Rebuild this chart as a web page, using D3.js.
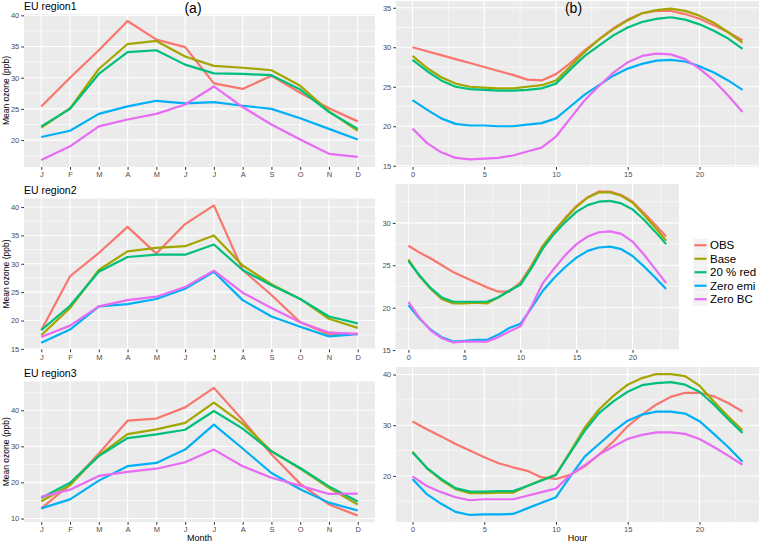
<!DOCTYPE html>
<html><head><meta charset="utf-8">
<script src="https://cdn.jsdelivr.net/npm/d3@7"></script>
<style>body{margin:0;background:#fff} svg{display:block;font-family:"Liberation Sans",Arial,sans-serif}</style>
</head><body><svg id="c" width="760" height="542"></svg>
<script>
// ---------- data ----------
const monthNames = ["Jan","Feb","Mar","Apr","May","Jun","Jul","Aug","Sep","Oct","Nov","Dec"];
const monthLabels = ["J","F","M","A","M","J","J","A","S","O","N","D"];
const hours = [0,1,2,3,4,5,6,7,8,9,10,11,12,13,14,15,16,17,18,19,20,21,22,23];
const hourTicks = [0,5,10,15,20];
const seriesNames = ["OBS","Base","20 % red","Zero emi","Zero BC"];
const seriesColors = ["#F8766D","#A3A500","#00BF7D","#00B0F6","#E76BF3"];

// EU region1 - monthly
const r1mOBS  = [25.4,30.0,34.4,39.1,36.1,34.9,29.1,28.2,30.3,27.6,25.1,23.0];
const r1mBase = [22.0,25.1,31.4,35.4,35.9,33.4,31.9,31.6,31.2,28.7,24.6,21.5];
const r1mRed  = [22.2,25.0,30.6,34.1,34.4,32.1,30.7,30.6,30.4,28.1,24.5,21.8];
const r1mEmi  = [20.5,21.5,24.2,25.4,26.3,25.9,26.1,25.5,25.0,23.5,21.8,20.1];
const r1mBC   = [16.8,19.0,22.2,23.3,24.2,25.7,28.6,25.3,22.5,20.1,17.8,17.3];
// EU region1 - hourly
const r1hOBS  = [30.0,29.5,29.0,28.5,28.0,27.5,27.0,26.5,25.9,25.8,26.6,28.0,29.6,31.0,32.4,33.5,34.3,34.6,34.6,34.2,33.6,32.8,31.9,30.9];
const r1hBase = [28.9,27.4,26.2,25.4,25.0,24.9,24.8,24.8,25.0,25.2,25.8,27.6,29.4,31.0,32.3,33.4,34.3,34.7,34.9,34.6,34.0,33.1,31.9,30.6];
const r1hRed  = [28.4,27.0,25.8,25.0,24.7,24.6,24.5,24.5,24.6,24.8,25.4,27.2,28.9,30.2,31.5,32.5,33.2,33.6,33.8,33.5,32.9,32.1,31.1,29.8];
const r1hEmi  = [23.3,22.1,21.0,20.3,20.1,20.1,20.0,20.0,20.2,20.4,21.0,22.5,24.0,25.2,26.4,27.3,27.9,28.3,28.4,28.2,27.6,26.8,25.8,24.6];
const r1hBC   = [19.7,17.9,16.7,16.0,15.8,15.9,16.0,16.3,16.8,17.3,18.7,21.0,23.3,25.1,26.8,28.1,28.9,29.2,29.1,28.5,27.3,25.8,23.9,21.8];
// EU region2 - monthly
const r2mOBS  = [18.3,27.8,31.9,36.5,31.8,37.0,40.3,28.9,24.5,19.7,17.6,17.7];
const r2mBase = [17.4,22.2,28.9,32.2,32.8,33.1,35.0,29.7,26.4,23.8,20.3,18.7];
const r2mRed  = [18.3,22.6,28.6,31.2,31.6,31.6,33.4,28.9,26.2,23.8,20.7,19.5];
const r2mEmi  = [16.1,18.4,22.5,22.9,23.8,25.6,28.6,23.6,20.7,18.9,17.2,17.6];
const r2mBC   = [17.1,19.1,22.5,23.6,24.2,25.9,28.8,24.9,22.2,19.7,17.9,17.6];
// EU region2 - hourly
const r2hOBS  = [27.3,26.5,25.8,25.0,24.2,23.6,23.0,22.4,21.9,21.9,23.0,25.0,27.3,29.0,30.6,32.0,33.0,33.7,33.7,33.3,32.5,31.2,29.8,28.4];
const r2hBase = [25.7,23.7,22.2,21.0,20.5,20.5,20.6,20.5,21.2,22.0,22.8,24.9,27.3,29.0,30.5,31.9,33.0,33.6,33.6,33.2,32.4,31.0,29.5,27.9];
const r2hRed  = [25.5,23.8,22.3,21.2,20.7,20.7,20.7,20.7,21.2,22.0,22.7,24.7,27.0,28.7,30.1,31.3,32.1,32.5,32.6,32.3,31.6,30.4,29.0,27.5];
const r2hEmi  = [20.3,18.7,17.4,16.5,16.0,16.1,16.2,16.2,16.8,17.6,18.1,20.0,22.0,23.5,24.8,25.9,26.7,27.1,27.2,26.9,26.1,24.9,23.6,22.2];
const r2hBC   = [20.7,18.8,17.3,16.4,15.9,16.0,16.0,16.0,16.5,17.2,17.8,20.2,22.9,24.6,26.2,27.5,28.4,28.9,29.0,28.7,27.8,26.3,24.6,22.9];
// EU region3 - monthly
const r3mOBS  = [12.8,19.4,28.0,37.1,37.7,40.8,46.2,37.3,27.8,19.6,13.9,10.8];
const r3mBase = [14.8,19.2,27.5,33.4,34.7,36.5,42.1,36.3,28.7,23.8,18.5,13.9];
const r3mRed  = [15.7,19.9,27.3,32.3,33.3,34.6,39.8,34.9,28.6,24.0,18.9,14.7];
const r3mEmi  = [12.8,15.3,20.5,24.5,25.4,29.1,36.0,29.4,22.6,18.1,14.4,12.2];
const r3mBC   = [16.0,18.0,21.8,22.9,23.8,25.6,29.1,24.5,21.3,19.1,16.8,16.9];
// EU region3 - hourly
const r3hOBS  = [30.75,29.2,27.8,26.3,25.0,23.7,22.5,21.7,21.0,19.7,19.4,20.2,21.9,24.2,26.8,29.8,32.1,34.1,35.6,36.4,36.4,35.7,34.4,32.7];
const r3hBase = [24.8,21.5,19.2,17.4,16.6,16.6,16.7,16.7,18.0,19.2,20.3,24.8,29.5,33.1,35.8,38.0,39.3,40.1,40.1,39.7,37.8,34.7,31.7,29.0];
const r3hRed  = [24.6,21.6,19.4,17.6,16.9,16.9,17.0,17.0,18.0,19.1,20.2,24.6,28.9,32.4,34.7,36.6,37.9,38.3,38.5,38.0,36.6,34.1,31.2,28.5];
const r3hEmi  = [19.4,16.4,14.5,12.9,12.3,12.4,12.4,12.5,13.6,14.7,15.8,19.9,23.8,26.3,28.8,30.9,32.1,32.7,32.7,32.3,30.8,28.3,25.7,22.8];
const r3hBC   = [19.9,18.0,16.8,15.8,15.2,15.4,15.4,15.4,16.1,16.8,17.5,20.2,22.1,24.2,25.8,27.3,28.1,28.6,28.6,28.3,27.3,25.7,24.0,22.2];

const yTicks1 = [20,25,30,35,40];
const yTicks2 = [15,20,25,30,35];
const yTicks3 = [15,20,25,30,35,40];
const yTicks4 = [15,20,25,30];
const yTicks5 = [10,20,30,40];
const yTicks6 = [20,30,40];

// ---------- layout ----------
const panels = [
  {kind:"month", series:[r1mOBS,r1mBase,r1mRed,r1mEmi,r1mBC], yt:yTicks1, box:[24,375,14,167], title:"EU region1", ylab:true},
  {kind:"hour",  series:[r1hOBS,r1hBase,r1hRed,r1hEmi,r1hBC], yt:yTicks2, box:[396,759,1,167]},
  {kind:"month", series:[r2mOBS,r2mBase,r2mRed,r2mEmi,r2mBC], yt:yTicks3, box:[24,375,198.5,349.5], title:"EU region2", ylab:true},
  {kind:"hour",  series:[r2hOBS,r2hBase,r2hRed,r2hEmi,r2hBC], yt:yTicks4, box:[395.5,679,184,350]},
  {kind:"month", series:[r3mOBS,r3mBase,r3mRed,r3mEmi,r3mBC], yt:yTicks5, box:[24,375,381.5,522], title:"EU region3", ylab:true, xlab:"Month"},
  {kind:"hour",  series:[r3hOBS,r3hBase,r3hRed,r3hEmi,r3hBC], yt:yTicks6, box:[396,759,367,522], xlab:"Hour"}
];

const svg = d3.select("#c");
const tickCol = "#4D4D4D", tickLen = 2.75;

panels.forEach(p => {
  const [L,R,T,B] = p.box;
  const all = p.series.flat();
  const lo = d3.min(all), hi = d3.max(all), pad = (hi-lo)*0.05;
  const y = d3.scaleLinear().domain([lo-pad, hi+pad]).range([B,T]);
  let x, xvals, xTickVals, xFmt;
  if (p.kind === "month") {
    x = d3.scalePoint().domain(monthNames).range([L,R]).padding(0.6);
    xvals = monthNames; xTickVals = monthNames;
    xFmt = (d,i) => monthLabels[monthNames.indexOf(d)];
  } else {
    const hp = (d3.max(hours)-d3.min(hours))*0.05;
    x = d3.scaleLinear().domain([d3.min(hours)-hp, d3.max(hours)+hp]).range([L,R]);
    xvals = hours; xTickVals = hourTicks; xFmt = d => d;
  }
  const g = svg.append("g");
  g.append("rect").attr("x",L).attr("y",T).attr("width",R-L).attr("height",B-T).attr("fill","#EBEBEB");
  // minor grid y
  const st = p.yt[1]-p.yt[0];
  const [d0,d1] = y.domain();
  const minors = [];
  for (let v = p.yt[0]-st/2; v <= d1; v += st) if (v >= d0) minors.push(v);
  g.selectAll(null).data(minors).enter().append("line")
    .attr("x1",L).attr("x2",R).attr("y1",d=>y(d)).attr("y2",d=>y(d))
    .attr("stroke","#fff").attr("stroke-width",0.55);
  if (p.kind === "hour") {
    const xm = [];
    for (let v = hourTicks[0]-2.5; v <= x.domain()[1]; v += 5) if (v >= x.domain()[0]) xm.push(v);
    g.selectAll(null).data(xm).enter().append("line")
      .attr("y1",T).attr("y2",B).attr("x1",d=>x(d)).attr("x2",d=>x(d))
      .attr("stroke","#fff").attr("stroke-width",0.55);
  }
  // major grid
  g.selectAll(null).data(p.yt).enter().append("line")
    .attr("x1",L).attr("x2",R).attr("y1",d=>y(d)).attr("y2",d=>y(d))
    .attr("stroke","#fff").attr("stroke-width",1.1);
  g.selectAll(null).data(xTickVals).enter().append("line")
    .attr("y1",T).attr("y2",B).attr("x1",d=>x(d)).attr("x2",d=>x(d))
    .attr("stroke","#fff").attr("stroke-width",1.1);
  // lines
  const line = d3.line().x((d,i)=>x(xvals[i])).y(d=>y(d));
  p.series.forEach((s,k) => {
    g.append("path").attr("d", line(s)).attr("fill","none")
      .attr("stroke", seriesColors[k]).attr("stroke-width",2.2)
      .attr("stroke-linejoin","round");
  });
  // axes
  const ya = d3.axisLeft(y).tickValues(p.yt).tickSize(tickLen).tickPadding(2);
  const ga = svg.append("g").attr("transform",`translate(${L},0)`).call(ya);
  const xa = (p.kind==="month" ? d3.axisBottom(x).tickFormat(xFmt) : d3.axisBottom(x).tickValues(hourTicks))
    .tickSize(tickLen).tickPadding(2);
  const gx = svg.append("g").attr("transform",`translate(0,${B})`).call(xa);
  [ga,gx].forEach(a => {
    a.select(".domain").remove();
    a.selectAll(".tick line").attr("stroke","#333333").attr("stroke-width",1);
    a.selectAll(".tick text").attr("fill",tickCol).attr("font-size",7.5)
      .attr("font-family","Liberation Sans, Arial, sans-serif");
  });
  if (p.title) {
    svg.append("text").attr("x",L).attr("y",T-4.5).attr("font-size",10.5).attr("fill","#000").text(p.title);
  }
  if (p.ylab) {
    svg.append("text").attr("transform",`translate(8.5,${(T+B)/2}) rotate(-90)`)
      .attr("text-anchor","middle").attr("font-size",8.5).attr("fill","#000").text("Mean ozone (ppb)");
  }
  if (p.xlab) {
    svg.append("text").attr("x",(L+R)/2).attr("y",541).attr("text-anchor","middle")
      .attr("font-size",9).attr("fill","#000").text(p.xlab);
  }
});

// panel labels
svg.append("text").attr("x",193).attr("y",13).attr("text-anchor","middle").attr("font-size",14).text("(a)");
svg.append("text").attr("x",573.5).attr("y",13).attr("text-anchor","middle").attr("font-size",14).text("(b)");

// legend
const lg = svg.append("g");
const keyY0 = 238.5, keyH = 13.5;
seriesNames.forEach((n,i) => {
  const yy = keyY0 + i*keyH;
  lg.append("rect").attr("x",693).attr("y",yy).attr("width",15).attr("height",keyH).attr("fill","#F2F2F2").attr("stroke","#fff").attr("stroke-width",0.5);
  lg.append("line").attr("x1",694.5).attr("x2",706.5).attr("y1",yy+keyH/2).attr("y2",yy+keyH/2)
    .attr("stroke",seriesColors[i]).attr("stroke-width",2.2);
  lg.append("text").attr("x",710).attr("y",yy+keyH/2).attr("dy","0.36em").attr("font-size",11.5).text(n);
});
</script></body></html>
